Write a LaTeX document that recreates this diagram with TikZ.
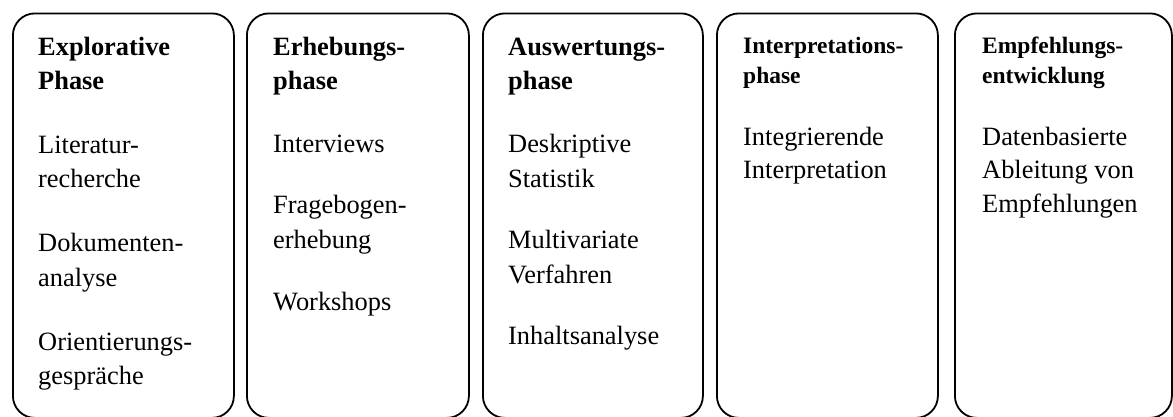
\documentclass[tikz,border=0pt]{standalone}
\usepackage{fontspec}
\setmainfont{Liberation Serif}
\tikzset{
  phasebox/.style={draw, line width=1.8pt, rounded corners=22pt, anchor=north west,
    minimum height=404.5pt, inner sep=0pt},
  head/.style={anchor=base west, inner sep=0pt, align=left,
    font=\fontsize{26.4}{34}\selectfont\bfseries},
  headsmall/.style={anchor=base west, inner sep=0pt, align=left,
    font=\fontsize{23.5}{30}\selectfont\bfseries},
  item/.style={anchor=base west, inner sep=0pt, align=left,
    font=\fontsize{26.4}{34.5}\selectfont},
  itemb/.style={anchor=base west, inner sep=0pt, align=left,
    font=\fontsize{26.4}{33.5}\selectfont},
}
\begin{document}
\begin{tikzpicture}[x=1pt,y=-1pt]
\useasboundingbox (0,0) rectangle (1173,416);
% boxes
\node[phasebox, minimum width=221pt] (b1) at (12,12.5) {};
\node[phasebox, minimum width=222pt] (b2) at (246,12.5) {};
\node[phasebox, minimum width=220pt] (b3) at (482,12.5) {};
\node[phasebox, minimum width=221pt] (b4) at (716,12.5) {};
\node[phasebox, minimum width=217pt] (b5) at (954,12.5) {};
% box 1 (anchors at the baseline of the last line)
\node[head] (h1) at (38,89) {Explorative\\Phase};
\node[item] (t11) at (38,187.5) {Literatur-\\recherche};
\node[item] (t12) at (38,286) {Dokumenten-\\analyse};
\node[item] (t13) at (38,384.5) {Orientierungs-\\gespräche};
% box 2
\node[head] (h2) at (273,89) {Erhebungs-\\phase};
\node[item] (t21) at (273,152) {Interviews};
\node[item] (t22) at (273,248) {Fragebogen-\\erhebung};
\node[item] (t23) at (273,310) {Workshops};
% box 3
\node[head] (h3) at (508,89) {Auswertungs-\\phase};
\node[item] (t31) at (508,187) {Deskriptive\\Statistik};
\node[item] (t32) at (508,283) {Multivariate\\Verfahren};
\node[item] (t33) at (508,344) {Inhaltsanalyse};
% box 4
\node[headsmall] (h4) at (743,83) {Interpretations-\\phase};
\node[itemb] (t41) at (743,178.5) {Integrierende\\Interpretation};
% box 5
\node[headsmall] (h5) at (982,83) {Empfehlungs-\\entwicklung};
\node[itemb] (t51) at (982,212) {Datenbasierte\\Ableitung von\\Empfehlungen};
\end{tikzpicture}
\end{document}
